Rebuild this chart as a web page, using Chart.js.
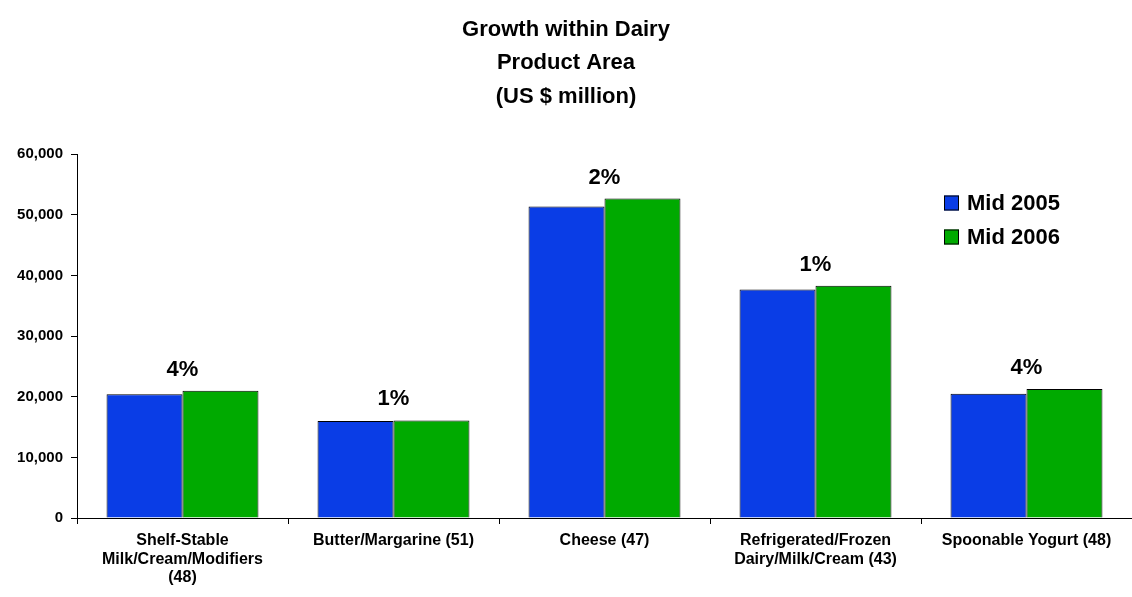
<!DOCTYPE html>
<html>
<head>
<meta charset="utf-8">
<script src="https://cdn.jsdelivr.net/npm/chart.js@4"></script>
<style>
  html, body { margin: 0; padding: 0; background: #fff; }
  #wrap { width: 1132px; height: 597px; }
</style>
</head>
<body>
<div id="wrap"><canvas id="myChart" width="1132" height="597"></canvas></div>
<script>
const categories = [
  ['Shelf-Stable', 'Milk/Cream/Modifiers', '(48)'],
  'Butter/Margarine (51)',
  'Cheese (47)',
  ['Refrigerated/Frozen', 'Dairy/Milk/Cream (43)'],
  'Spoonable Yogurt (48)'
];
const mid2005 = [20400, 16000, 51400, 37700, 20500];
const mid2006 = [21000, 16100, 52700, 38300, 21300];
const growthLabels = ['4%', '1%', '2%', '1%', '4%'];
const seriesNames = ['Mid 2005', 'Mid 2006'];
const seriesColors = ['#0a3de6', '#00aa00'];

const FONT = "Arial, 'Liberation Sans', sans-serif";

// growth % above each pair + legend inside the plot
const overlay = {
  id: 'overlay',
  afterDatasetsDraw(chart) {
    const c = chart.ctx;
    const x = chart.scales.x, y = chart.scales.y;
    c.save();
    c.fillStyle = '#000';
    c.font = 'bold 22px ' + FONT;
    c.textAlign = 'center';
    c.textBaseline = 'bottom';
    growthLabels.forEach((t, i) => {
      const top = y.getPixelForValue(Math.max(mid2005[i], mid2006[i]));
      c.fillText(t, x.getPixelForValue(i), top - 10);
    });

    // legend
    const lx = 944, ly = 203;
    c.font = 'bold 22px ' + FONT;
    c.textAlign = 'left';
    c.textBaseline = 'middle';
    seriesNames.forEach((name, i) => {
      const cy = ly + i * 34;
      c.fillStyle = seriesColors[i];
      c.fillRect(lx, cy - 7.5, 15, 15);
      c.strokeStyle = '#000';
      c.lineWidth = 1;
      c.strokeRect(lx + 0.5, cy - 7, 14, 14);
      c.fillStyle = '#000';
      c.fillText(name, lx + 23, cy + 1);
    });
    c.restore();
  }
};

const ctx = document.getElementById('myChart').getContext('2d');
const myChart = new Chart(ctx, {
  type: 'bar',
  data: {
    labels: categories,
    datasets: [
      { label: seriesNames[0], data: mid2005, backgroundColor: seriesColors[0], borderColor: '#000', borderWidth: 1 },
      { label: seriesNames[1], data: mid2006, backgroundColor: seriesColors[1], borderColor: '#000', borderWidth: 1 }
    ]
  },
  options: {
    responsive: false,
    animation: false,
    layout: { padding: { left: 0, right: 0, top: 13, bottom: 0 } },
    datasets: { bar: { categoryPercentage: 0.72, barPercentage: 1 } },
    plugins: {
      legend: { display: false },
      tooltip: { enabled: false },
      title: {
        display: true,
        text: ['Growth within Dairy', 'Product Area', '(US $ million)'],
        color: '#000',
        font: { family: FONT, size: 22, weight: 'bold', lineHeight: 1.52 },
        padding: { top: 0, bottom: 41 }
      }
    },
    scales: {
      x: {
        afterFit(s) { s.height = 79; },
        grid: { drawOnChartArea: false, color: '#000', tickLength: 6 },
        border: { color: '#000', width: 1 },
        ticks: {
          color: '#000',
          maxRotation: 0,
          autoSkip: false,
          padding: 8,
          font: { family: FONT, size: 16, weight: 'bold', lineHeight: 1.13 }
        }
      },
      y: {
        min: 0,
        max: 60000,
        afterFit(s) { s.width = 77; },
        grid: { drawOnChartArea: false, color: '#000', tickLength: 6 },
        border: { color: '#000', width: 1 },
        ticks: {
          stepSize: 10000,
          color: '#000',
          padding: 8,
          font: { family: FONT, size: 15, weight: 'bold' },
          callback: v => v.toLocaleString('en-US')
        }
      }
    }
  },
  plugins: [overlay]
});
</script>
</body>
</html>
